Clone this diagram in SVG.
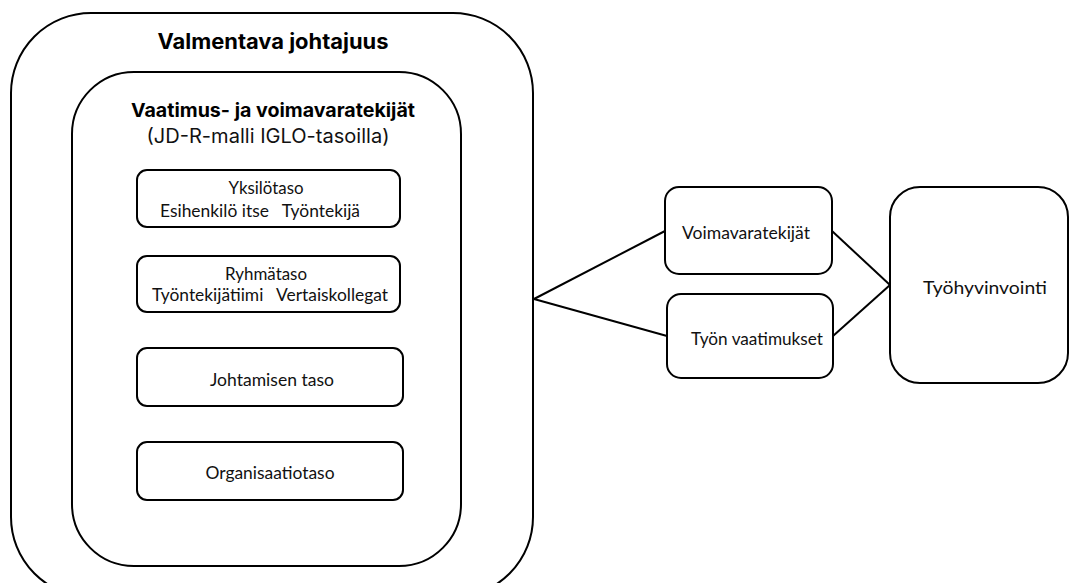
<svg xmlns="http://www.w3.org/2000/svg" width="1070" height="583" viewBox="0 0 1070 583">
<style>
.box{fill:#fff;stroke:#000;stroke-width:2}
.ln{stroke:#000;stroke-width:2;fill:none}
.t{font-family:Lato,"Noto Sans",sans-serif;font-size:17px;fill:#111;text-anchor:middle;white-space:pre}
.h{font-family:Inter,"Open Sans",sans-serif;font-weight:bold;fill:#000;text-anchor:middle}
.s{font-family:Inter,"Open Sans",sans-serif;fill:#111;text-anchor:middle}
</style>
<rect width="1070" height="583" fill="#fff"/>
<g id="outer">
<rect class="box" x="11" y="13" width="522" height="584" rx="80"/>
<text class="h" x="273" y="49" font-size="21" textLength="231" lengthAdjust="spacingAndGlyphs">Valmentava johtajuus</text>
</g>
<g id="inner">
<rect class="box" x="72" y="72" width="389" height="494" rx="62"/>
<text class="h" x="273" y="117" font-size="19" textLength="284" lengthAdjust="spacingAndGlyphs">Vaatimus- ja voimavaratekijät</text>
<text class="s" x="268" y="143" font-size="19.5" textLength="243" lengthAdjust="spacingAndGlyphs">(JD-R-malli IGLO-tasoilla)</text>
</g>
<g id="yksilo">
<rect class="box" x="137" y="170" width="263" height="57" rx="10"/>
<text class="t" x="266" y="194" textLength="75" lengthAdjust="spacingAndGlyphs">Yksilötaso</text>
<text class="t" x="260" y="217" textLength="200" lengthAdjust="spacingAndGlyphs" xml:space="preserve">Esihenkilö itse   Työntekijä</text>
</g>
<g id="ryhma">
<rect class="box" x="137" y="256" width="263" height="56" rx="10"/>
<text class="t" x="266" y="280" textLength="82" lengthAdjust="spacingAndGlyphs">Ryhmätaso</text>
<text class="t" x="270" y="301" textLength="236" lengthAdjust="spacingAndGlyphs" xml:space="preserve">Työntekijätiimi   Vertaiskollegat</text>
</g>
<g id="johtaminen">
<rect class="box" x="137" y="348" width="266" height="58" rx="10"/>
<text class="t" x="272" y="386" textLength="124" lengthAdjust="spacingAndGlyphs">Johtamisen taso</text>
</g>
<g id="organisaatio">
<rect class="box" x="137" y="442" width="266" height="58" rx="10"/>
<text class="t" x="270" y="479" textLength="129" lengthAdjust="spacingAndGlyphs">Organisaatiotaso</text>
</g>
<g id="voimavara">
<rect class="box" x="665" y="187" width="167" height="87" rx="14"/>
<text class="t" x="746" y="239" textLength="128" lengthAdjust="spacingAndGlyphs">Voimavaratekijät</text>
</g>
<g id="vaatimukset">
<rect class="box" x="667" y="294" width="166" height="84" rx="14"/>
<text class="t" x="757" y="345" textLength="132" lengthAdjust="spacingAndGlyphs">Työn vaatimukset</text>
</g>
<g id="tyohyvinvointi">
<rect class="box" x="890" y="187" width="178" height="196" rx="30"/>
<text class="t" x="985" y="294" font-size="18" textLength="124" lengthAdjust="spacingAndGlyphs">Työhyvinvointi</text>
</g>
<g id="connectors">
<line class="ln" x1="534" y1="299" x2="665" y2="231"/>
<line class="ln" x1="534" y1="299" x2="667" y2="336"/>
<line class="ln" x1="832" y1="231" x2="890" y2="285"/>
<line class="ln" x1="833" y1="336" x2="890" y2="285"/>
</g>
</svg>
